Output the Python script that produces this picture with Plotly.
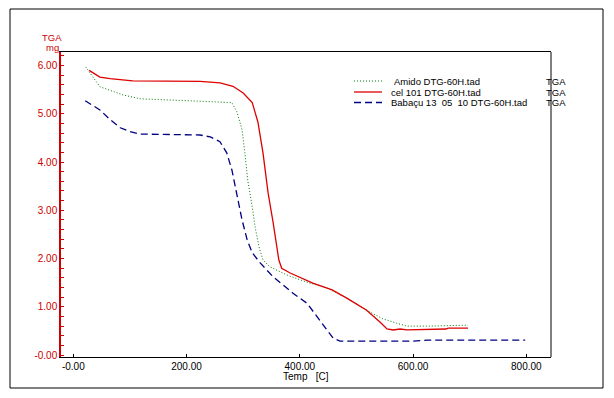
import plotly.graph_objects as go

# ---- data ----
amido_x = [22, 47, 88, 118, 224, 280, 289, 298, 303, 308, 316, 321, 328, 335, 347,
           377, 400, 418, 448, 483, 524, 547, 571, 589, 630, 697]
amido_y = [5.97, 5.56, 5.39, 5.31, 5.26, 5.23, 5.04, 4.67, 4.19, 3.63, 3.07, 2.66, 2.24, 1.97, 1.83,
           1.66, 1.56, 1.49, 1.39, 1.18, 0.89, 0.75, 0.66, 0.60, 0.60, 0.62]

cel_x = [28, 47, 65, 88, 105, 224, 259, 282, 300, 316, 326, 335, 344, 353, 363, 368, 383,
         423, 457, 483, 518, 542, 554, 565, 577, 589, 630, 658, 662, 697]
cel_y = [5.90, 5.76, 5.73, 5.70, 5.68, 5.67, 5.64, 5.57, 5.43, 5.23, 4.83, 4.19, 3.36, 2.74, 1.97, 1.80, 1.70,
         1.49, 1.35, 1.18, 0.93, 0.68, 0.54, 0.52, 0.54, 0.52, 0.54, 0.54, 0.56, 0.56]

bab_x = [21, 47, 65, 83, 100, 118, 224, 242, 259, 271, 280, 286, 291, 298, 307, 316, 330,
         353, 377, 388, 413, 430, 448, 459, 471, 542, 600, 625, 798]
bab_y = [5.27, 5.08, 4.88, 4.71, 4.63, 4.58, 4.56, 4.52, 4.42, 4.19, 3.84, 3.49, 3.15, 2.80, 2.39, 2.12, 1.91,
         1.62, 1.39, 1.28, 1.07, 0.79, 0.52, 0.35, 0.29, 0.29, 0.29, 0.31, 0.31]

series_names = ["Amido DTG-60H.tad", "cel 101 DTG-60H.tad", "Babaçu 13  05  10 DTG-60H.tad"]
series_tag = "TGA"

x_tickvals = [0, 200, 400, 600, 800]
x_ticktext = ["-0.00", "200.00", "400.00", "600.00", "800.00"]
y_tickvals = [0, 1, 2, 3, 4, 5, 6]
y_ticktext = ["-0.00", "1.00", "2.00", "3.00", "4.00", "5.00", "6.00"]

# ---- styles ----
GREEN = "#007a00"
RED = "#dd0000"
NAVY = "#000080"
AXRED = "#cc0000"
FONT = "Liberation Sans, Arial, sans-serif"

styles = [
    dict(color=GREEN, width=1, dash="1px,2px"),
    dict(color=RED, width=1.3),
    dict(color=NAVY, width=1.3, dash="7px,4px"),
]

fig = go.Figure()
for (xs, ys), name, st in zip([(amido_x, amido_y), (cel_x, cel_y), (bab_x, bab_y)], series_names, styles):
    fig.add_trace(go.Scatter(x=xs, y=ys, mode="lines", name=name, line=st,
                             showlegend=False, hoverinfo="x+y+name"))

# plot geometry (pixels)
L, R, T, B = 61, 551, 52, 357
W, H = 614, 398
pw, ph = R - L, B - T

def px(x):
    return (x - L) / pw

def py(y):
    return (B - y) / ph

fig.update_layout(
    width=W, height=H,
    margin=dict(l=L, r=W - R, t=T, b=H - B, pad=0),
    paper_bgcolor="white", plot_bgcolor="white",
    font=dict(family=FONT, size=10, color="black"),
    showlegend=False,
)

fig.update_xaxes(
    range=[-21.7, 843.6], showgrid=False, zeroline=False,
    showline=True, linecolor="black", linewidth=1, mirror=True,
    tickmode="array", tickvals=x_tickvals, ticktext=x_ticktext,
    ticks="inside", ticklen=3, tickcolor="black",
    tickfont=dict(family=FONT, size=10, color="black"),
)
fig.update_yaxes(
    range=[-0.04, 6.28], showgrid=False, zeroline=False,
    showline=True, linecolor=AXRED, linewidth=1.5,
    tickmode="array", tickvals=y_tickvals, ticktext=y_ticktext,
    ticks="inside", ticklen=3, tickcolor=AXRED,
    tickfont=dict(family=FONT, size=10, color=AXRED),
    minor=dict(tickmode="linear", tick0=0, dtick=0.2, ticks="inside", ticklen=3, tickcolor=AXRED),
)

shapes = []
# outer frame
shapes.append(dict(type="rect", xref="paper", yref="paper",
                   x0=px(10), x1=px(603), y0=py(388), y1=py(9),
                   line=dict(color="black", width=1), layer="below"))
# right plot border
shapes.append(dict(type="line", xref="paper", yref="paper",
                   x0=1, x1=1, y0=0, y1=1, line=dict(color="black", width=1)))

# legend (drawn manually to match the compact spacing)
leg_rows = [81, 92, 102.5]
leg_text_x = [392, 389, 389]
annotations = []
for row, name, st, tx in zip(leg_rows, series_names, styles, leg_text_x):
    shapes.append(dict(type="line", xref="paper", yref="paper",
                       x0=px(354), x1=px(382), y0=py(row), y1=py(row),
                       line=st))
    annotations.append(dict(xref="paper", yref="paper", x=px(tx), y=py(row),
                            text=name, showarrow=False, xanchor="left", yanchor="middle",
                            font=dict(family=FONT, size=9.5, color="black")))
    annotations.append(dict(xref="paper", yref="paper", x=px(544), y=py(row),
                            text=series_tag, showarrow=False, xanchor="left", yanchor="middle",
                            font=dict(family=FONT, size=9.5, color="black")))

# y-axis title (two lines, red) and x-axis title
annotations.append(dict(xref="paper", yref="paper", x=px(52), y=py(38), text="TGA",
                        showarrow=False, xanchor="center", yanchor="middle",
                        font=dict(family=FONT, size=9.5, color=AXRED)))
annotations.append(dict(xref="paper", yref="paper", x=px(52), y=py(47.5), text="mg",
                        showarrow=False, xanchor="center", yanchor="middle",
                        font=dict(family=FONT, size=9.5, color=AXRED)))
annotations.append(dict(xref="paper", yref="paper", x=px(306), y=py(376), text="Temp   [C]",
                        showarrow=False, xanchor="center", yanchor="middle",
                        font=dict(family=FONT, size=10, color="black")))

fig.update_layout(shapes=shapes, annotations=annotations)

fig.write_html("out.html", config={"displayModeBar": False},
               post_script="document.body.style.margin='0';")
